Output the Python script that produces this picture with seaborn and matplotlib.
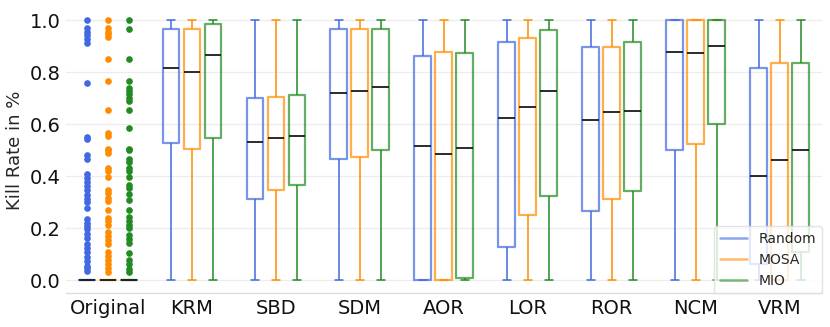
import numpy as np
import pandas as pd
import matplotlib
matplotlib.use("Agg")
import matplotlib.pyplot as plt
from matplotlib.lines import Line2D
import seaborn as sns

# ---------------- data ----------------
groups = ["Original", "KRM", "SBD", "SDM", "AOR", "LOR", "ROR", "NCM", "VRM"]
methods = ["Random", "MOSA", "MIO"]
colors = ["#4169E1", "#FF8C00", "#228B22"]

# Box statistics for the mutation groups (KRM ... VRM); whiskers span 0 .. 1
random_q1 = [0.529, 0.313, 0.468, 0.000, 0.128, 0.268, 0.500, 0.062]
random_med = [0.815, 0.533, 0.719, 0.518, 0.623, 0.617, 0.877, 0.401]
random_q3 = [0.965, 0.701, 0.965, 0.862, 0.918, 0.896, 1.000, 0.818]

mosa_q1 = [0.504, 0.346, 0.474, 0.000, 0.251, 0.312, 0.524, 0.000]
mosa_med = [0.800, 0.549, 0.727, 0.487, 0.667, 0.646, 0.873, 0.463]
mosa_q3 = [0.965, 0.706, 0.965, 0.876, 0.933, 0.896, 1.000, 0.836]

mio_q1 = [0.546, 0.367, 0.500, 0.009, 0.324, 0.345, 0.600, 0.108]
mio_med = [0.867, 0.554, 0.742, 0.508, 0.726, 0.651, 0.901, 0.500]
mio_q3 = [0.986, 0.712, 0.965, 0.873, 0.963, 0.917, 1.000, 0.836]

whisker_low = [0.0] * 8
whisker_high = [1.0] * 8

# "Original": mostly zero kill rates, the non-zero values are outliers
original_zero_count = 150
original_random = [1.0, 0.969, 0.956, 0.943, 0.927, 0.914, 0.760, 0.552, 0.542,
                   0.482, 0.467, 0.408, 0.392, 0.379, 0.364, 0.347, 0.328, 0.313,
                   0.300, 0.277, 0.236, 0.222, 0.210, 0.197, 0.177, 0.164, 0.138,
                   0.123, 0.108, 0.091, 0.074, 0.056, 0.046, 0.036]
original_mosa = [1.0, 0.969, 0.956, 0.947, 0.937, 0.851, 0.767, 0.655, 0.568,
                 0.555, 0.504, 0.501, 0.488, 0.433, 0.420, 0.398, 0.347, 0.335,
                 0.318, 0.305, 0.270, 0.241, 0.228, 0.213, 0.185, 0.172, 0.155,
                 0.138, 0.110, 0.095, 0.078, 0.062, 0.046, 0.031]
original_mio = [1.0, 0.967, 0.850, 0.767, 0.741, 0.728, 0.715, 0.702, 0.690,
                0.655, 0.587, 0.504, 0.501, 0.467, 0.454, 0.433, 0.420, 0.398,
                0.367, 0.354, 0.331, 0.309, 0.270, 0.245, 0.228, 0.213, 0.200,
                0.174, 0.159, 0.142, 0.104, 0.078, 0.062, 0.043, 0.031]

# ---------------- build long table ----------------
rows = []
orig_lists = [original_random, original_mosa, original_mio]
for m, vals in zip(methods, orig_lists):
    for v in [0.0] * original_zero_count + vals:
        rows.append((groups[0], m, v))

stats = {
    "Random": (random_q1, random_med, random_q3),
    "MOSA": (mosa_q1, mosa_med, mosa_q3),
    "MIO": (mio_q1, mio_med, mio_q3),
}
for m in methods:
    q1s, meds, q3s = stats[m]
    for i, g in enumerate(groups[1:]):
        for v in (whisker_low[i], q1s[i], meds[i], q3s[i], whisker_high[i]):
            rows.append((g, m, v))

df = pd.DataFrame(rows, columns=["group", "method", "kill"])

# ---------------- plot ----------------
sns.set_theme(style="white")
plt.rcParams["font.family"] = ["DejaVu Sans"]

fig = plt.figure(figsize=(8.3, 3.27), dpi=100)
ax = fig.add_axes([0.0795, 0.103, 0.9105, 0.875])

sns.boxplot(data=df, x="group", y="kill", hue="method",
            order=groups, hue_order=methods, palette=colors,
            saturation=1, fill=False, width=0.75, gap=0.2, whis=2.0,
            linewidth=1.1, fliersize=4.5, legend=False, ax=ax,
            medianprops={"color": "#1a1a1a", "linewidth": 1.3})

for cont in ax.containers:
    if hasattr(cont, "boxes"):
        for b in cont.boxes:
            b.set_alpha(0.7)
            b.set_linewidth(1.6)
        for md in cont.medians:
            md.set_color("#1a1a1a")
            md.set_alpha(1.0)
        for fl in cont.fliers:
            c = fl.get_markeredgecolor()
            fl.set_marker("o")
            fl.set_markerfacecolor(c)
            fl.set_markeredgecolor(c)
            fl.set_markeredgewidth(0)
            fl.set_markersize(4.8)

ax.set_xlim(-0.5, 8.5)
ax.set_ylim(-0.05, 1.05)
ax.set_yticks([0.0, 0.2, 0.4, 0.6, 0.8, 1.0])
ax.set_yticklabels(["0.0", "0.2", "0.4", "0.6", "0.8", "1.0"])
ax.yaxis.grid(True, color="#ececec", linewidth=0.9)
ax.set_axisbelow(True)
ax.set_xlabel("")
ax.set_ylabel("Kill Rate in %", fontsize=13)
ax.tick_params(axis="both", length=0, labelsize=14, pad=4, colors="#111111")
for s in ["top", "right", "left"]:
    ax.spines[s].set_visible(False)
ax.spines["bottom"].set_color("#dddddd")
ax.spines["bottom"].set_linewidth(1.0)

handles = [Line2D([0], [0], color=c, lw=1.8, alpha=0.6) for c in colors]
leg = ax.legend(handles, methods, loc="lower right", fontsize=10,
                frameon=True, framealpha=0.8, edgecolor="#dddddd",
                borderaxespad=0.0, handlelength=2.0)

fig.savefig("out.png", dpi=100)
